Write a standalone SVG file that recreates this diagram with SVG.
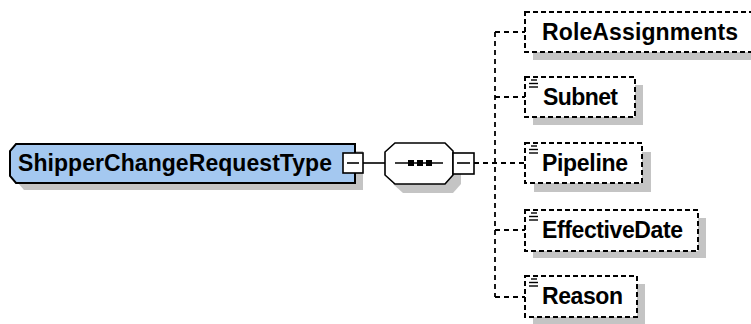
<svg xmlns="http://www.w3.org/2000/svg" width="751" height="324" viewBox="0 0 751 324">
<style>
.shadow{fill:#c4c4c4;stroke:none}
.lbl{font-family:"Liberation Sans",Arial,sans-serif;font-weight:bold;font-size:23px;fill:#000}
.child{fill:#fff;stroke:#000;stroke-width:2;stroke-dasharray:5,3}
.conn{fill:none;stroke:#000;stroke-width:1.6}
.dash{fill:none;stroke:#000;stroke-width:1.8;stroke-dasharray:5,4}
.icon{stroke:#000;stroke-width:1.4}
.box{fill:#fff;stroke:#000;stroke-width:1.6}
</style>
<rect width="751" height="324" fill="#fff"/>
<g id="connectors">
<line class="conn" x1="363" y1="163" x2="385" y2="163"/>
<line class="dash" x1="474" y1="163" x2="525" y2="163"/>
<line class="dash" x1="495" y1="32" x2="495" y2="297"/>
<line class="dash" x1="495" y1="32" x2="525" y2="32"/>
<line class="dash" x1="495" y1="97" x2="525" y2="97"/>
<line class="dash" x1="495" y1="230" x2="525" y2="230"/>
<line class="dash" x1="495" y1="297" x2="525" y2="297"/>
</g>
<g id="ShipperChangeRequestType">
<polygon class="shadow" points="24,151 363,151 363,190 24,190 18,183 18,158"/>
<polygon points="16,144 355,144 355,183 16,183 10,176 10,151" fill="#a4c8f0" stroke="#000" stroke-width="2"/>
<text class="lbl" x="18" y="171" textLength="314" lengthAdjust="spacing">ShipperChangeRequestType</text>
<rect class="box" x="343" y="153" width="20" height="20"/>
<line class="conn" x1="347" y1="163" x2="359" y2="163"/>
</g>
<g id="sequence">
<polygon class="shadow" points="403,152 453,152 461,160 461,184 453,193 403,193 393,184 393,160"/>
<polygon points="395,143 445,143 453,151 453,175 445,184 395,184 385,175 385,152" fill="#fff" stroke="#000" stroke-width="1.6"/>
<line class="conn" x1="395" y1="163" x2="443" y2="163"/>
<rect x="408" y="160" width="6" height="6" fill="#000"/>
<rect x="417" y="160" width="6" height="6" fill="#000"/>
<rect x="426" y="160" width="6" height="6" fill="#000"/>
<rect class="box" x="453" y="153" width="21" height="21"/>
<line class="conn" x1="457" y1="163" x2="470" y2="163"/>
</g>
<g id="RoleAssignments">
<rect class="shadow" x="533" y="20" width="230" height="40"/>
<rect class="child" x="525" y="12" width="230" height="40"/>
<text class="lbl" x="542" y="40" textLength="196" lengthAdjust="spacing">RoleAssignments</text>
</g>
<g id="Subnet">
<rect class="shadow" x="533" y="85" width="110" height="40"/>
<rect class="child" x="525" y="77" width="110" height="40"/>
<line class="icon" x1="531" y1="80" x2="537" y2="80"/>
<line class="icon" x1="529" y1="83.5" x2="538" y2="83.5"/>
<line class="icon" x1="529" y1="87" x2="538" y2="87"/>
<text class="lbl" x="543" y="105" textLength="75" lengthAdjust="spacing">Subnet</text>
</g>
<g id="Pipeline">
<rect class="shadow" x="534" y="152" width="117" height="40"/>
<rect class="child" x="525" y="143" width="117" height="40"/>
<line class="icon" x1="531" y1="146" x2="537" y2="146"/>
<line class="icon" x1="529" y1="149.5" x2="538" y2="149.5"/>
<line class="icon" x1="529" y1="153" x2="538" y2="153"/>
<text class="lbl" x="542" y="171" textLength="86" lengthAdjust="spacing">Pipeline</text>
</g>
<g id="EffectiveDate">
<rect class="shadow" x="533" y="218" width="173" height="40"/>
<rect class="child" x="525" y="210" width="173" height="41"/>
<line class="icon" x1="531" y1="213" x2="537" y2="213"/>
<line class="icon" x1="529" y1="216.5" x2="538" y2="216.5"/>
<line class="icon" x1="529" y1="220" x2="538" y2="220"/>
<text class="lbl" x="542" y="238" textLength="141" lengthAdjust="spacing">EffectiveDate</text>
</g>
<g id="Reason">
<rect class="shadow" x="533" y="284" width="112" height="40"/>
<rect class="child" x="525" y="276" width="112" height="41"/>
<line class="icon" x1="531" y1="279" x2="537" y2="279"/>
<line class="icon" x1="529" y1="282.5" x2="538" y2="282.5"/>
<line class="icon" x1="529" y1="286" x2="538" y2="286"/>
<text class="lbl" x="542" y="304" textLength="81" lengthAdjust="spacing">Reason</text>
</g>
</svg>
